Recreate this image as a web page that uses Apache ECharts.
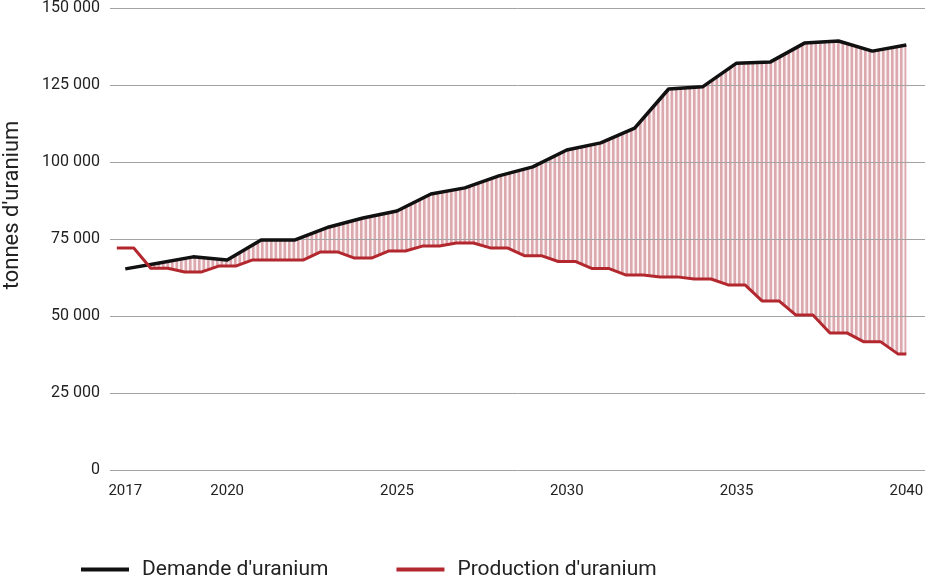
<!DOCTYPE html>
<html>
<head>
<meta charset="utf-8">
<script src="https://cdn.jsdelivr.net/npm/echarts@6/dist/echarts.min.js"></script>
<style>
html,body{margin:0;padding:0;background:#fff;}
#chart{width:950px;height:580px;}
</style>
</head>
<body>
<div id="chart"></div>
<script>
const years = [2017,2018,2019,2020,2021,2022,2023,2024,2025,2026,2027,2028,2029,2030,2031,2032,2033,2034,2035,2036,2037,2038,2039,2040];
const demand = [65300,67200,69200,68200,74700,74700,78900,81800,84100,89600,91600,95500,98400,103900,106200,111000,123700,124400,132100,132500,138600,139300,136000,138000];
const production = [72100,65500,64300,66200,68200,68200,70800,68800,71100,72700,73700,72100,69600,67700,65400,63300,62700,62000,60100,54900,50300,44500,41600,37700];
const xTickLabels = [2017,2020,2025,2030,2035,2040];
const seriesNames = ["Demande d'uranium", "Production d'uranium"];

// stripe pattern for the gap area
const pc = document.createElement('canvas');
pc.width = 9; pc.height = 10;
const pctx = pc.getContext('2d');
pctx.fillStyle = '#fbf3f4';
pctx.fillRect(0,0,9,10);
pctx.fillStyle = '#dba8ad';
pctx.fillRect(0,0,2.6,10);
pctx.fillRect(4.5,0,2.6,10);

const demandData = years.map((y,i)=>[y, demand[i]]);
const lastYear = years[years.length-1];
const prodData = [];
years.forEach((y,i)=>{
  prodData.push([y-0.25, production[i]]);
  prodData.push([Math.min(y+0.25, lastYear), production[i]]);
});
// white mask under production, slightly wider on the right to hide the edge
const prodMask = prodData.slice();
prodMask.push([lastYear+0.1, production[production.length-1]]);

const fmt = v => String(v).replace(/\B(?=(\d{3})+(?!\d))/g, ' ');

const chart = echarts.init(document.getElementById('chart'), null, {renderer:'canvas'});
chart.setOption({
  animation: false,
  backgroundColor: '#fff',
  grid: {left:110, right:25, top:8, bottom:110, containLabel:false},
  xAxis: {
    type:'value', min:2016.55, max:2040.55,
    axisLine:{show:false}, axisTick:{show:false}, splitLine:{show:false},
    axisLabel:{customValues:xTickLabels, formatter:v=>String(v), fontFamily:'Roboto', fontSize:15, color:'#222', margin:14}
  },
  yAxis: {
    type:'value', min:0, max:150000, interval:25000, z:3,
    axisLine:{show:false}, axisTick:{show:false},
    axisLabel:{formatter:fmt, fontFamily:'Roboto', fontSize:16, color:'#222', margin:10},
    splitLine:{lineStyle:{color:'#a3a3a3', width:1}}
  },
  legend: {
    data: seriesNames, left:76, top:554, icon:'rect', itemWidth:48, itemHeight:4, itemGap:68,
    textStyle:{fontFamily:'Roboto', fontSize:21, color:'#222', padding:[0,0,0,8]}
  },
  graphic: [{
    type:'text', x:12, y:205, rotation:Math.PI/2,
    style:{text:"tonnes d'uranium", fontFamily:'Roboto', fontSize:22, fill:'#222', align:'center', verticalAlign:'middle'}
  }],
  series: [
    {name:'demandArea', type:'line', data:demandData, symbol:'none', silent:true, z:1,
     lineStyle:{width:0}, areaStyle:{color:{image:pc, repeat:'repeat'}, opacity:1}},
    {name:'prodArea', type:'line', data:prodMask, symbol:'none', silent:true, z:2,
     lineStyle:{width:0}, areaStyle:{color:'#ffffff', opacity:1}},
    {name:seriesNames[0], type:'line', data:demandData, symbol:'none', z:4, color:'#111111',
     lineStyle:{color:'#111111', width:3.5, join:'round'}},
    {name:seriesNames[1], type:'line', data:prodData, symbol:'none', z:4, color:'#b3282e',
     lineStyle:{color:'#b3282e', width:3, join:'round'}}
  ]
});
</script>
</body>
</html>
